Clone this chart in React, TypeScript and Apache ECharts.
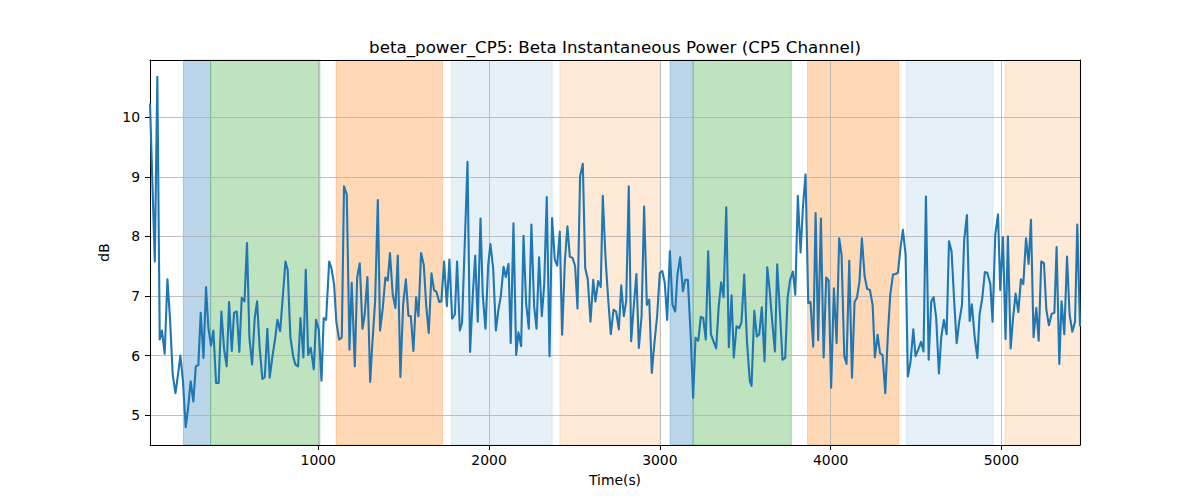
import React, { useEffect, useRef } from "react";
import * as echarts from "echarts";

const chartTitle = "beta_power_CP5: Beta Instantaneous Power (CP5 Channel)";
const xName = "Time(s)";
const yName = "dB";

const times = [
  15, 43, 58, 72, 85, 101, 117, 132, 148, 164, 179, 193, 208, 224, 238, 253, 269, 283, 298, 312,
  328, 343, 357, 372, 386, 402, 417, 433, 449, 464, 478, 494, 507, 523, 538, 552, 568, 583, 597, 613,
  628, 642, 657, 673, 687, 702, 716,
  732, 747, 761, 777, 792, 808, 821, 837, 853, 866, 882, 896, 913, 927, 941, 956, 974, 987, 1003, 1019,
  1032, 1046, 1064, 1077, 1093, 1106, 1122, 1138, 1151, 1167, 1183, 1196, 1214, 1228, 1243, 1259, 1272,
  1288, 1304, 1317, 1333, 1349, 1362, 1378, 1393, 1407, 1420,
  1436, 1452, 1466, 1481, 1497, 1513, 1528, 1542, 1557, 1573, 1587, 1602, 1618, 1632, 1647, 1663, 1678,
  1692, 1708, 1721, 1737, 1753, 1768, 1784, 1800, 1813, 1829, 1842, 1858, 1874, 1889, 1905, 1919, 1934,
  1950, 1963, 1979, 1995, 2008, 2024, 2040, 2055, 2069, 2085, 2098, 2114,
  2127, 2143, 2159, 2172, 2188, 2202, 2217, 2233, 2248, 2264, 2278, 2293, 2309, 2323, 2338, 2354, 2369,
  2385, 2399, 2414, 2428, 2444, 2459, 2473, 2489, 2504, 2518, 2533, 2549, 2563, 2578, 2594, 2610, 2623,
  2639, 2654, 2666, 2682, 2697, 2713, 2729, 2744, 2760, 2774, 2789, 2803, 2818,
  2832, 2848, 2863, 2877, 2893, 2908, 2924, 2938, 2953, 2969, 2984, 3000, 3014, 3029, 3043, 3059, 3074,
  3090, 3103, 3119, 3135, 3148, 3164, 3180, 3195, 3209, 3225, 3240, 3254, 3269, 3283, 3299, 3314, 3330,
  3344, 3359, 3373, 3389, 3404, 3420, 3433, 3449, 3465, 3478, 3494, 3510, 3527,
  3537, 3553, 3568, 3582, 3597, 3613, 3629, 3642, 3658, 3674, 3687, 3703, 3718, 3734, 3748, 3763, 3779,
  3793, 3808, 3824, 3838, 3853, 3869, 3882, 3898, 3912, 3927, 3943, 3959, 3974, 3988, 4003, 4019, 4035,
  4050, 4064, 4080, 4093, 4109, 4125, 4140, 4154, 4169, 4183, 4199, 4214, 4230,
  4246, 4259, 4275, 4289, 4304, 4320, 4335, 4349, 4365, 4380, 4394, 4410, 4423, 4439, 4452, 4468, 4484,
  4497, 4513, 4529, 4544, 4558, 4574, 4589, 4603, 4618, 4634, 4648, 4663, 4679, 4693, 4708, 4724, 4738,
  4753, 4769, 4782, 4798, 4814, 4827, 4843, 4859, 4872, 4888, 4903, 4917,
  4935, 4948, 4964, 4980, 4993, 5009, 5024, 5038, 5054, 5069, 5083, 5099, 5114, 5128, 5144, 5159, 5173,
  5188, 5204, 5218, 5233, 5249, 5263, 5278, 5294, 5310, 5323, 5339, 5352, 5368, 5384, 5399, 5415, 5431,
  5444, 5460,
];

const values = [
  10.23, 7.58, 10.68, 6.27, 6.42, 6.03, 7.28, 6.63, 5.68, 5.37, 5.68, 6.0, 5.57, 4.8, 5.12, 5.57, 5.23, 5.82, 5.84, 6.72,
  5.96, 7.15, 6.46, 6.17, 6.42, 5.54, 5.54, 6.74, 6.1, 5.82, 6.9, 6.08, 6.72, 6.74, 6.06, 6.97, 6.91, 7.89, 6.3, 5.85,
  6.63, 6.91, 6.13, 5.61, 5.64, 6.45, 5.63,
  5.99, 6.27, 6.6, 6.41, 6.97, 7.58, 7.44, 6.31, 5.99, 5.85, 5.82, 6.63, 5.97, 7.44, 6.01, 6.13, 5.77, 6.6, 6.44, 5.58,
  6.63, 6.6, 7.58, 7.47, 7.19, 6.57, 6.27, 6.3, 8.84, 8.7, 6.1, 7.22, 5.82, 7.31, 7.55, 6.45, 6.69,
  7.32, 5.56, 6.21, 6.91, 8.61, 6.42, 6.8, 7.31, 7.26, 7.72,
  7.03, 6.8, 7.68, 5.64, 6.85, 7.28, 6.67, 6.66, 6.08, 6.98, 6.66, 7.72, 7.52, 6.84, 6.38, 7.38, 7.1,
  7.07, 6.9, 6.91, 7.58, 6.83, 7.61, 6.62, 6.69, 7.58, 6.42, 6.55, 7.89, 9.25, 6.06, 7.02, 7.68, 6.57,
  8.3, 7.03, 6.45, 7.52, 7.87, 7.47, 6.42, 6.77, 7.0, 7.49, 7.32, 7.54,
  6.21, 8.22, 6.01, 6.39, 6.16, 8.01, 6.88, 6.45, 8.2, 6.83, 6.45, 7.65, 6.66, 7.19, 8.66, 5.99, 8.31,
  7.61, 7.51, 8.08, 6.35, 7.58, 8.17, 7.66, 7.64, 7.5, 6.79, 9.01, 9.22, 7.47, 7.28, 6.57, 7.27, 6.91,
  7.25, 7.15, 8.68, 7.64, 6.97, 6.36, 6.77, 6.74, 6.44, 7.18, 6.66, 6.91, 8.84,
  6.24, 6.85, 7.37, 6.13, 6.66, 8.5, 6.85, 6.94, 5.71, 6.23, 6.66, 7.39, 7.42, 7.22, 6.6, 7.75, 6.85,
  6.74, 7.36, 7.65, 7.08, 7.27, 7.27, 6.38, 5.29, 6.3, 6.25, 6.65, 6.63, 6.27, 7.75, 6.36, 6.24, 6.12,
  6.8, 7.23, 6.98, 8.49, 6.14, 7.01, 5.97, 6.49, 6.46, 6.56, 7.36, 6.24, 5.57,
  5.49, 6.75, 6.32, 6.36, 6.81, 5.9, 7.48, 7.13, 6.57, 6.07, 7.53, 6.74, 5.93, 5.96, 6.97, 7.27, 7.41,
  7.02, 8.68, 7.73, 8.5, 9.04, 6.88, 6.9, 6.15, 8.39, 6.26, 8.3, 5.97, 7.31, 7.26, 5.46, 7.13, 6.21,
  7.97, 7.69, 5.99, 5.86, 7.59, 5.63, 6.9, 6.97, 7.25, 7.97, 7.33, 7.12, 7.1,
  6.85, 5.97, 6.35, 6.04, 6.01, 5.37, 6.35, 7.02, 7.36, 7.37, 7.39, 7.83, 8.11, 7.69, 5.65, 5.9, 6.44,
  5.99, 6.1, 6.23, 6.07, 8.67, 5.93, 6.91, 6.98, 6.63, 5.7, 6.32, 6.6, 6.36, 7.92, 7.75, 6.88, 6.21,
  6.57, 6.85, 7.94, 8.36, 6.58, 6.86, 6.32, 5.96, 6.69, 6.97, 7.4, 7.39,
  7.2, 6.57, 8.03, 8.37, 7.1, 7.99, 6.28, 8.0, 6.12, 6.66, 7.04, 6.73, 7.28, 7.2, 7.97, 7.54, 8.28,
  6.31, 6.8, 6.25, 7.58, 7.55, 6.77, 6.51, 6.7, 6.72, 7.82, 5.86, 6.91, 6.36, 7.66, 6.69, 6.4, 6.57,
  8.2, 6.49,
];

const spanStarts = [210, 370, 1105, 1780, 2415, 3060, 3195, 3865, 4445, 5020];
const spanEnds = [370, 1010, 1727, 2370, 3000, 3195, 3770, 4400, 4952, 5460];
const spanColors = [
  "rgba(31,119,180,0.3)",
  "rgba(44,160,44,0.3)",
  "rgba(255,127,14,0.3)",
  "rgba(31,119,180,0.11)",
  "rgba(255,127,14,0.16)",
  "rgba(31,119,180,0.3)",
  "rgba(44,160,44,0.3)",
  "rgba(255,127,14,0.3)",
  "rgba(31,119,180,0.11)",
  "rgba(255,127,14,0.16)",
];

const xTicks = [1000, 2000, 3000, 4000, 5000];
const yTicks = [5, 6, 7, 8, 9, 10];

const xMin = 15;
const xMax = 5460;
const yMin = 4.5;
const yMax = 10.96;

const FONT = "DejaVu Sans";

export default function App() {
  const ref = useRef<HTMLDivElement>(null);

  useEffect(() => {
    if (!ref.current) return;
    const chart = echarts.init(ref.current, undefined, { renderer: "svg" });
    const lineData = times.map((t, i) => [t, values[i]]);
    const areas = spanStarts.map((s, i) => [
      {
        xAxis: s,
        itemStyle: { color: spanColors[i], borderColor: spanColors[i], borderWidth: 1 },
      },
      { xAxis: spanEnds[i] },
    ]);

    const spine = { show: true, onZero: false, lineStyle: { color: "#000", width: 1 } };

    chart.setOption({
      animation: false,
      backgroundColor: "#ffffff",
      textStyle: { fontFamily: FONT },
      graphic: [
        {
          type: "text",
          x: 615,
          y: 47,
          style: {
            text: chartTitle,
            fontFamily: FONT,
            fontSize: 16.7,
            fill: "#000",
            textAlign: "center",
            textVerticalAlign: "middle",
          },
          z: 10,
        },
      ],
      grid: {
        left: 150,
        right: 120,
        top: 60,
        bottom: 55,
        show: false,
      },
      xAxis: [
        {
          type: "value",
          min: xMin,
          max: xMax,
          z: 2,
          name: xName,
          nameLocation: "middle",
          nameGap: 28,
          nameTextStyle: { fontFamily: FONT, fontSize: 13.9, color: "#000" },
          axisLine: spine,
          axisTick: {
            show: true,
            length: 5,
            customValues: xTicks,
            lineStyle: { color: "#000", width: 1 },
          },
          axisLabel: {
            fontFamily: FONT,
            fontSize: 13.9,
            color: "#000",
            margin: 8,
            formatter: (v: number) => (xTicks.indexOf(v) >= 0 ? String(v) : ""),
          },
          splitLine: { show: true, lineStyle: { color: "#b0b0b0", width: 0.8 } },
        },
        {
          type: "value",
          position: "top",
          min: xMin,
          max: xMax,
          z: 2,
          axisLine: spine,
          axisTick: { show: false },
          axisLabel: { show: false },
          splitLine: { show: false },
        },
      ],
      yAxis: [
        {
          type: "value",
          min: yMin,
          max: yMax,
          splitNumber: 6,
          z: 2,
          name: yName,
          nameLocation: "middle",
          nameGap: 33,
          nameTextStyle: { fontFamily: FONT, fontSize: 13.9, color: "#000" },
          axisLine: spine,
          axisTick: {
            show: true,
            length: 5,
            customValues: yTicks,
            lineStyle: { color: "#000", width: 1 },
          },
          axisLabel: {
            fontFamily: FONT,
            fontSize: 13.9,
            color: "#000",
            margin: 10,
            formatter: (v: number) =>
              Math.abs(v - Math.round(v)) < 1e-6 ? String(Math.round(v)) : "",
          },
          splitLine: { show: true, lineStyle: { color: "#b0b0b0", width: 0.8 } },
        },
        {
          type: "value",
          position: "right",
          min: yMin,
          max: yMax,
          z: 2,
          axisLine: spine,
          axisTick: { show: false },
          axisLabel: { show: false },
          splitLine: { show: false },
        },
      ],
      series: [
        {
          type: "line",
          xAxisIndex: 0,
          yAxisIndex: 0,
          data: lineData,
          showSymbol: false,
          symbol: "none",
          silent: true,
          lineStyle: { opacity: 0, width: 0 },
          markArea: {
            silent: true,
            data: areas,
          },
          z: 1,
        },
        {
          type: "line",
          xAxisIndex: 0,
          yAxisIndex: 0,
          data: lineData,
          showSymbol: false,
          symbol: "none",
          clip: true,
          lineStyle: { color: "#1f77b4", width: 2.1, join: "round" },
          itemStyle: { color: "#1f77b4" },
          z: 3,
        },
      ],
    });

    return () => chart.dispose();
  }, []);

  return (
    <div
      ref={ref}
      style={{ position: "fixed", left: 0, top: 0, width: 1200, height: 500, background: "#fff" }}
    />
  );
}
